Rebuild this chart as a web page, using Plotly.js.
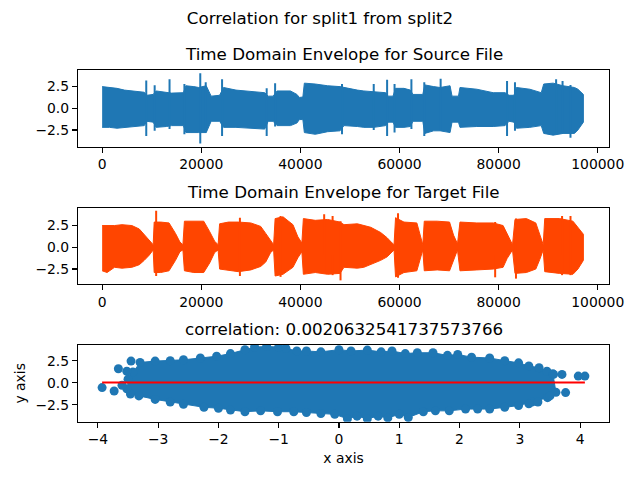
<!DOCTYPE html>
<html>
<head>
<meta charset="utf-8">
<script src="https://cdn.plot.ly/plotly-3.0.1.min.js"></script>
<style>
  html, body { margin: 0; padding: 0; background: #fff; }
  #chart { width: 640px; height: 480px; }
</style>
</head>
<body>
<div id="chart"></div>
<script>
// source envelope (sample index, upper, lower)
var srcX   = [0, 1500, 3000, 4500, 6500, 8500, 9000, 10300, 10900, 13000, 14000, 16400, 16900, 18500, 19500, 21000, 22000, 23700, 24500, 27000, 30000, 32800, 33500, 34500, 35300, 38000, 39300, 39800, 40500, 40800, 43000, 45500, 48000, 48800, 51500, 52800, 54800, 57200, 57700, 58700, 59200, 60900, 62200, 62700, 64700, 65100, 66900, 68200, 70200, 70600, 71900, 72200, 75600, 78900, 81300, 82100, 83100, 83600, 86300, 88600, 89100, 91000, 93000, 95300, 96000, 97100];
var srcTop = [2.5, 2.4, 2.3, 2.1, 1.95, 1.85, 1.5, 1.6, 2.0, 1.8, 1.75, 1.8, 2.6, 2.5, 2.4, 2.6, 1.4, 1.5, 2.4, 2.1, 1.9, 1.8, 1.4, 1.4, 2.0, 2.0, 1.6, 1.25, 1.3, 2.9, 2.8, 2.6, 2.5, 2.4, 2.1, 2.0, 1.9, 1.8, 1.4, 1.4, 2.3, 2.3, 2.1, 1.6, 1.6, 2.7, 2.5, 2.4, 2.6, 1.4, 1.4, 2.4, 2.2, 1.8, 1.8, 1.5, 1.5, 2.4, 2.2, 1.8, 2.8, 2.9, 2.6, 2.4, 2.2, 1.6];
var srcBot = [-2.2, -2.2, -2.3, -2.2, -2.1, -2.0, -1.5, -1.6, -2.2, -2.1, -2.0, -2.0, -2.8, -2.8, -2.8, -2.8, -1.5, -1.5, -2.2, -2.2, -2.3, -2.4, -1.5, -1.5, -2.0, -2.0, -1.7, -1.3, -1.3, -2.8, -3.0, -2.7, -2.6, -2.0, -2.1, -2.2, -2.2, -2.0, -1.6, -1.6, -2.2, -2.2, -2.1, -1.5, -1.5, -2.9, -2.6, -2.6, -2.8, -1.6, -1.6, -2.2, -2.1, -2.1, -2.0, -1.5, -1.6, -2.3, -2.2, -2.0, -2.9, -3.1, -2.9, -2.9, -2.5, -1.6];
var srcSpikeX   = [8900, 10600, 13600, 16600, 19800, 20900, 24200, 33200, 34900, 48400, 54800, 57500, 59000, 62400, 65000, 68300, 81700, 83300, 91600, 92900, 94500];
var srcSpikeTop = [3.2, 2.65, 3.35, 2.8, 4.05, 3.0, 3.35, 2.3, 2.9, 2.8, 2.8, 3.3, 2.8, 3.35, 3.0, 3.4, 3.15, 3.0, 3.35, 3.15, 2.7];
var srcSpikeBot = [-3.2, -2.6, -2.4, -3.0, -4.05, -2.8, -3.2, -3.2, -2.1, -3.0, -2.5, -3.2, -2.8, -2.4, -3.2, -2.6, -3.2, -2.6, -3.0, -2.9, -3.4];

// target envelope
var tgtX   = [0, 1000, 2500, 4000, 6000, 7500, 8500, 9500, 10300, 10500, 11800, 13500, 14800, 15700, 16300, 16600, 18500, 20500, 21700, 22700, 23400, 23700, 25500, 27500, 30000, 32000, 33000, 34000, 34600, 34900, 36500, 38500, 39500, 40300, 40600, 43000, 45500, 48000, 48800, 51500, 52800, 54200, 56200, 57500, 58500, 58900, 59200, 60900, 63500, 64300, 64700, 65000, 67600, 70100, 70900, 71700, 72200, 75600, 78900, 80900, 81700, 82500, 82800, 83300, 85600, 87500, 88300, 89000, 89300, 92300, 95000, 96000, 97100];
var tgtTop = [2.5, 2.5, 2.5, 2.6, 2.5, 2.1, 1.5, 0.8, 0.3, 2.9, 2.9, 2.8, 1.6, 0.6, 0.3, 3.0, 3.0, 3.0, 1.8, 0.7, 0.3, 2.7, 2.9, 2.9, 2.8, 2.4, 1.6, 0.7, 0.3, 3.3, 3.5, 2.6, 1.2, 0.5, 3.3, 3.1, 3.2, 2.9, 2.6, 2.7, 2.5, 2.3, 1.7, 1.1, 0.5, 0.3, 3.4, 2.9, 2.8, 1.3, 0.3, 3.0, 3.0, 2.9, 1.4, 0.4, 2.9, 2.8, 2.8, 2.5, 1.5, 0.6, 0.3, 3.2, 3.3, 2.8, 1.4, 0.3, 3.3, 3.3, 3.0, 2.3, 1.5];
var tgtBot = [-2.7, -2.9, -2.3, -2.4, -2.3, -2.0, -1.5, -0.9, -0.3, -2.9, -2.9, -2.7, -1.5, -0.5, -0.3, -2.7, -2.9, -2.9, -1.8, -0.6, -0.3, -2.5, -2.6, -2.8, -2.6, -2.2, -1.7, -0.6, -0.3, -3.3, -3.1, -2.3, -1.2, -0.5, -3.1, -2.9, -3.1, -3.0, -2.3, -2.4, -2.3, -2.0, -1.5, -1.1, -0.5, -0.3, -3.4, -2.9, -2.7, -1.2, -0.3, -2.7, -2.6, -2.7, -1.5, -0.3, -2.7, -2.6, -2.5, -2.3, -1.3, -0.6, -0.3, -3.0, -2.9, -2.5, -1.4, -0.3, -2.8, -3.0, -3.1, -2.5, -1.5];
var tgtSpikeX   = [10900, 27800, 36000, 44800, 46500, 48100, 59700, 79300, 83500, 92800, 94500];
var tgtSpikeTop = [4.2, 3.4, 3.6, 3.8, 3.6, 3.0, 3.9, 2.9, 3.3, 3.6, 3.6];
var tgtSpikeBot = [-3.3, -3.3, -3.4, -3.0, -3.2, -3.8, -3.5, -3.45, -3.6, -3.2, -3.2];

// scatter of source vs target: edge of the dense cloud plus stray points
var cloudTopX = [-3.5, -3.42, -3.3, -3.05, -2.8, -2.58, -2.3, -2.03, -1.8, -1.56, -1.4, -1.2, -1.0, -0.88, -0.7, -0.54, -0.3, 0.0, 0.2, 0.47, 0.7, 0.88, 1.1, 1.3, 1.56, 1.8, 1.97, 2.2, 2.5, 2.75, 2.98, 3.15, 3.32, 3.45, 3.55];
var cloudTopY = [0.4, 1.2, 2.3, 2.45, 2.5, 2.6, 2.8, 3.0, 3.3, 3.75, 4.05, 4.1, 4.05, 3.9, 3.6, 3.6, 3.5, 3.75, 3.6, 3.7, 3.5, 3.6, 3.3, 3.4, 3.4, 3.1, 3.2, 2.9, 2.8, 2.5, 2.25, 1.9, 1.7, 1.3, 1.0];
var cloudBotX = [-3.52, -3.46, -3.32, -3.05, -2.8, -2.58, -2.24, -2.0, -1.8, -1.56, -1.3, -1.02, -0.75, -0.54, -0.3, -0.07, 0.14, 0.3, 0.47, 0.65, 0.81, 1.0, 1.15, 1.4, 1.6, 1.83, 2.1, 2.3, 2.5, 2.75, 2.98, 3.2, 3.46, 3.6];
var cloudBotY = [-0.7, -1.3, -1.5, -1.9, -2.2, -2.45, -2.8, -2.9, -3.1, -3.3, -3.2, -3.3, -3.3, -3.4, -3.5, -3.6, -4.1, -3.8, -4.1, -3.8, -4.0, -3.6, -3.95, -3.3, -3.2, -3.2, -3.0, -3.0, -3.0, -2.8, -2.6, -2.2, -1.7, -1.1];
var strayX = [-3.93, -3.73, -3.66, -3.45, -3.52, -3.6, 3.56, 3.7, 3.97, 4.08, 3.76, 3.15, 3.3, 3.5];
var strayY = [-0.56, -0.94, 1.58, 2.45, 1.3, -0.3, 0.94, 0.94, 0.75, 0.75, -1.13, -2.4, -2.2, -1.5];

// fitted line
var fitX = [-3.93, 4.08];
var fitY = [0.01, 0.03];

var BLUE = '#1f77b4', ORANGE = '#ff4500';
var FONT = 'DejaVu Sans, sans-serif';

// closed outline: upper edge left to right, lower edge back
function outline(topX, topY, botX, botY) {
  return {
    x: topX.concat(botX.slice().reverse()),
    y: topY.concat(botY.slice().reverse())
  };
}

function spikes(xs, top, bot) {
  var sx = [], sy = [];
  for (let i = 0; i < xs.length; i++) {
    sx.push(xs[i], xs[i], null);
    sy.push(top[i], bot[i], null);
  }
  return {x: sx, y: sy};
}

var srcBand = outline(srcX, srcTop, srcX, srcBot);
var tgtBand = outline(tgtX, tgtTop, tgtX, tgtBot);
var srcSp = spikes(srcSpikeX, srcSpikeTop, srcSpikeBot);
var tgtSp = spikes(tgtSpikeX, tgtSpikeTop, tgtSpikeBot);
var cloud = outline(cloudTopX, cloudTopY, cloudBotX, cloudBotY);

var traces = [
  {x: srcBand.x, y: srcBand.y, type: 'scatter', mode: 'lines', fill: 'toself',
   fillcolor: BLUE, line: {color: BLUE, width: 1}, xaxis: 'x', yaxis: 'y'},
  {x: srcSp.x, y: srcSp.y, type: 'scatter', mode: 'lines',
   line: {color: BLUE, width: 2}, xaxis: 'x', yaxis: 'y'},
  {x: tgtBand.x, y: tgtBand.y, type: 'scatter', mode: 'lines', fill: 'toself',
   fillcolor: ORANGE, line: {color: ORANGE, width: 1}, xaxis: 'x2', yaxis: 'y2'},
  {x: tgtSp.x, y: tgtSp.y, type: 'scatter', mode: 'lines',
   line: {color: ORANGE, width: 2}, xaxis: 'x2', yaxis: 'y2'},
  {x: cloud.x, y: cloud.y, type: 'scatter', mode: 'lines', fill: 'toself',
   fillcolor: BLUE, line: {color: BLUE, width: 1}, xaxis: 'x3', yaxis: 'y3'},
  {x: cloud.x.concat(strayX), y: cloud.y.concat(strayY), type: 'scatter', mode: 'markers',
   marker: {color: BLUE, size: 9}, xaxis: 'x3', yaxis: 'y3'},
  {x: fitX, y: fitY, type: 'scatter', mode: 'lines',
   line: {color: '#ff0000', width: 2}, xaxis: 'x3', yaxis: 'y3'}
];

function axis(extra) {
  var a = {
    showgrid: false, zeroline: false, showline: true, mirror: true,
    linecolor: '#000', linewidth: 1.1, ticks: 'outside', ticklen: 5,
    tickwidth: 1.1, tickcolor: '#000',
    tickfont: {family: FONT, size: 13.9, color: '#000'}
  };
  for (var k in extra) a[k] = extra[k];
  return a;
}

var yTicks = {tickmode: 'linear', tick0: 0, dtick: 2.5, tickformat: '.1f'};

var layout = {
  width: 640, height: 480,
  margin: {l: 78, r: 31, t: 0, b: 0},
  paper_bgcolor: '#fff', plot_bgcolor: '#fff',
  showlegend: false,
  font: {family: FONT, color: '#000'},
  title: {text: 'Correlation for split1 from split2', x: 0.5, xref: 'container',
          y: 0.962, yref: 'container', yanchor: 'middle',
          font: {family: FONT, size: 16.7, color: '#000'}},
  xaxis: axis({domain: [0, 1], anchor: 'y', range: [-4870, 102270],
               tickmode: 'linear', tick0: 0, dtick: 20000, tickformat: 'd'}),
  yaxis: axis(Object.assign({domain: [0.6944, 0.8542], anchor: 'x', range: [-4.43, 4.42]}, yTicks)),
  xaxis2: axis({domain: [0, 1], anchor: 'y2', range: [-4870, 102270],
                tickmode: 'linear', tick0: 0, dtick: 20000, tickformat: 'd'}),
  yaxis2: axis(Object.assign({domain: [0.4083, 0.5660], anchor: 'x2', range: [-4.22, 4.48]}, yTicks)),
  xaxis3: axis({domain: [0, 1], anchor: 'y3', range: [-4.33, 4.48],
                tickmode: 'linear', tick0: 0, dtick: 1,
                title: {text: 'x axis', font: {family: FONT, size: 13.9, color: '#000'}, standoff: 6}}),
  yaxis3: axis(Object.assign({domain: [0.1215, 0.2813], anchor: 'x3', range: [-4.43, 4.28],
                title: {text: 'y axis', font: {family: FONT, size: 13.9, color: '#000'}, standoff: 6}}, yTicks)),
  annotations: [
    {text: 'Time Domain Envelope for Source File', xref: 'paper', yref: 'paper',
     x: 0.5, y: 0.8542, xanchor: 'center', yanchor: 'bottom', yshift: 4, showarrow: false,
     font: {family: FONT, size: 16.7, color: '#000'}},
    {text: 'Time Domain Envelope for Target File', xref: 'paper', yref: 'paper',
     x: 0.5, y: 0.5660, xanchor: 'center', yanchor: 'bottom', yshift: 4, showarrow: false,
     font: {family: FONT, size: 16.7, color: '#000'}},
    {text: 'correlation: 0.0020632541737573766', xref: 'paper', yref: 'paper',
     x: 0.5, y: 0.2813, xanchor: 'center', yanchor: 'bottom', yshift: 4, showarrow: false,
     font: {family: FONT, size: 16.7, color: '#000'}}
  ]
};

Plotly.newPlot('chart', traces, layout, {displayModeBar: false, staticPlot: true});
</script>
</body>
</html>
